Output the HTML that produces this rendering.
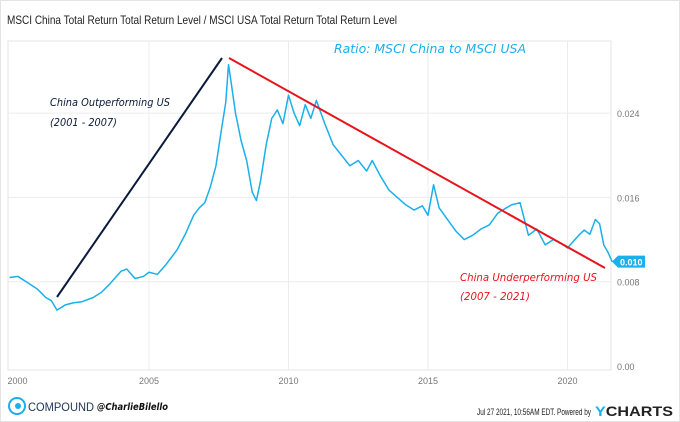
<!DOCTYPE html>
<html><head><meta charset="utf-8"><style>
body{margin:0;width:680px;height:422px;background:#fff;font-family:"Liberation Sans",sans-serif;overflow:hidden}
#wrap{position:absolute;left:0;top:0;width:678px;height:420px;border:1px solid #e4e4e4}
</style></head><body>
<div id="wrap"></div>
<svg id="c" width="680" height="422" style="position:absolute;left:0;top:0">
<text x="7" y="24" font-size="12" fill="#222" textLength="390" lengthAdjust="spacingAndGlyphs">MSCI China Total Return Total Return Level / MSCI USA Total Return Total Return Level</text>
<rect x="8" y="41" width="603" height="329" fill="none" stroke="#e6e6e6"/>
<g id="grid"></g><g id="series"></g>
<line x1="57" y1="297" x2="222" y2="58" stroke="#0a1a3a" stroke-width="2"/>
<line x1="229" y1="58" x2="605" y2="268" stroke="#e8141c" stroke-width="2"/>
<text x="334" y="53" font-size="12" fill="#1ab0ea" font-family="'DejaVu Sans',sans-serif" font-style="italic" textLength="192" lengthAdjust="spacingAndGlyphs">Ratio: MSCI China to MSCI USA</text>
<text x="50" y="106" font-size="11" fill="#0a1a3a" font-family="'DejaVu Sans',sans-serif" font-style="italic" textLength="120" lengthAdjust="spacingAndGlyphs">China Outperforming US</text>
<text x="50" y="126" font-size="11" fill="#0a1a3a" font-family="'DejaVu Sans',sans-serif" font-style="italic" textLength="67" lengthAdjust="spacingAndGlyphs">(2001 - 2007)</text>
<text x="460" y="281" font-size="11" fill="#e8141c" font-family="'DejaVu Sans',sans-serif" font-style="italic" textLength="137" lengthAdjust="spacingAndGlyphs">China Underperforming US</text>
<text x="460" y="300" font-size="11" fill="#e8141c" font-family="'DejaVu Sans',sans-serif" font-style="italic" textLength="70" lengthAdjust="spacingAndGlyphs">(2007 - 2021)</text>
<g id="tag"></g>
<g><circle cx="17" cy="406" r="8" fill="none" stroke="#1ab0ea" stroke-width="2"/><circle cx="18" cy="406" r="3" fill="#1ab0ea"/></g>
<text x="28" y="411" font-size="12" fill="#1d3557" textLength="66" lengthAdjust="spacingAndGlyphs">COMPOUND</text>
<text x="97" y="410" font-size="10" fill="#111" font-style="italic" font-weight="bold" font-family="'DejaVu Sans',sans-serif" textLength="71" lengthAdjust="spacingAndGlyphs">@CharlieBilello</text>
<text x="477" y="415" font-size="9" fill="#222" textLength="114" lengthAdjust="spacingAndGlyphs">Jul 27 2021, 10:56AM EDT.  Powered by</text>
<text x="595" y="416" font-size="14" font-weight="bold" fill="#222" textLength="78" lengthAdjust="spacingAndGlyphs"><tspan fill="#1ab0ea">Y</tspan>CHARTS</text>
</svg>
<script>
const years=[2000,2000.3,2000.6,2001,2001.3,2001.5,2001.7,2002,2002.3,2002.6,2003,2003.3,2003.6,2004,2004.2,2004.5,2004.8,2005,2005.3,2005.6,2006,2006.3,2006.6,2006.8,2007,2007.2,2007.4,2007.6,2007.75,2007.85,2007.95,2008.1,2008.3,2008.5,2008.7,2008.85,2009,2009.2,2009.4,2009.6,2009.8,2010,2010.2,2010.4,2010.6,2010.8,2011,2011.3,2011.6,2011.9,2012.2,2012.5,2012.8,2013,2013.3,2013.6,2013.9,2014.2,2014.5,2014.8,2015,2015.2,2015.4,2015.7,2016,2016.3,2016.6,2016.9,2017.2,2017.5,2017.8,2018,2018.3,2018.6,2018.9,2019.2,2019.5,2019.8,2020,2020.2,2020.4,2020.6,2020.8,2021,2021.15,2021.3,2021.45,2021.6];
const ratio=[0.0084,0.0085,0.0080,0.0073,0.0065,0.0062,0.0053,0.0058,0.0060,0.0061,0.0065,0.0070,0.0078,0.0090,0.0092,0.0083,0.0085,0.0089,0.0087,0.0096,0.0110,0.0125,0.0143,0.0150,0.0155,0.0170,0.0190,0.0225,0.0250,0.0286,0.0268,0.0240,0.0214,0.0195,0.0165,0.0157,0.0176,0.0210,0.0235,0.0243,0.0230,0.0257,0.0240,0.0228,0.0248,0.0235,0.0252,0.0230,0.0210,0.0200,0.0190,0.0195,0.0185,0.0195,0.0180,0.0167,0.0160,0.0153,0.0148,0.0152,0.0143,0.0172,0.0150,0.0139,0.0128,0.0120,0.0124,0.0130,0.0134,0.0145,0.0150,0.0153,0.0155,0.0124,0.0130,0.0115,0.0120,0.0116,0.0112,0.0118,0.0124,0.0129,0.0125,0.0139,0.0135,0.0115,0.0108,0.0099];
const yTicks=[0,0.008,0.016,0.024];
const yTickLabels=["0.00","0.008","0.016","0.024"];
const xTicks=[2000,2005,2010,2015,2020];
const lastLabel="0.010";
const NS="http://www.w3.org/2000/svg";
const X=v=>149+(v-2005)*27.9, Y=v=>366-v/0.008*84.3;
function mk(t,a,p){const e=document.createElementNS(NS,t);for(const k in a)e.setAttribute(k,a[k]);p.appendChild(e);return e;}
const g=document.getElementById('grid');
yTicks.forEach((t,i)=>{
 if(t>0){const l=mk('line',{x1:8,x2:611,y1:Y(t),y2:Y(t),stroke:'#ececec'},g);
 
 }
 const tx=mk('text',{x:617,y:Y(t)+4,'font-size':9,fill:'#777'},g);tx.textContent=yTickLabels[i];
 
 
});
xTicks.forEach(t=>{
 if(t>2000){const l=mk('line',{x1:X(t),x2:X(t),y1:41,y2:370,stroke:'#ececec'},g);
 
 }
 const tx=mk('text',{x:X(t)+(t==2000?8:0),y:384,'font-size':9,fill:'#777','text-anchor':'middle'},g);tx.textContent=t;
 
 
});
const s=document.getElementById('series');
const p=mk('polyline',{points:years.map((y,i)=>X(y)+','+Y(ratio[i])).join(' '),fill:'none',stroke:'#1ab0ea','stroke-width':1.5,'stroke-linejoin':'round'},s);


const tg=document.getElementById('tag');const ly=Y(ratio[ratio.length-1]);
mk('path',{d:`M612 ${ly} L618 ${ly-6} L645 ${ly-6} L645 ${ly+6} L618 ${ly+6} Z`,fill:'#1ab0ea'},tg);
const tt=mk('text',{x:620,y:ly+4,'font-size':9,'font-weight':'bold',fill:'#fff'},tg);tt.textContent=lastLabel;
</script>
</body></html>
